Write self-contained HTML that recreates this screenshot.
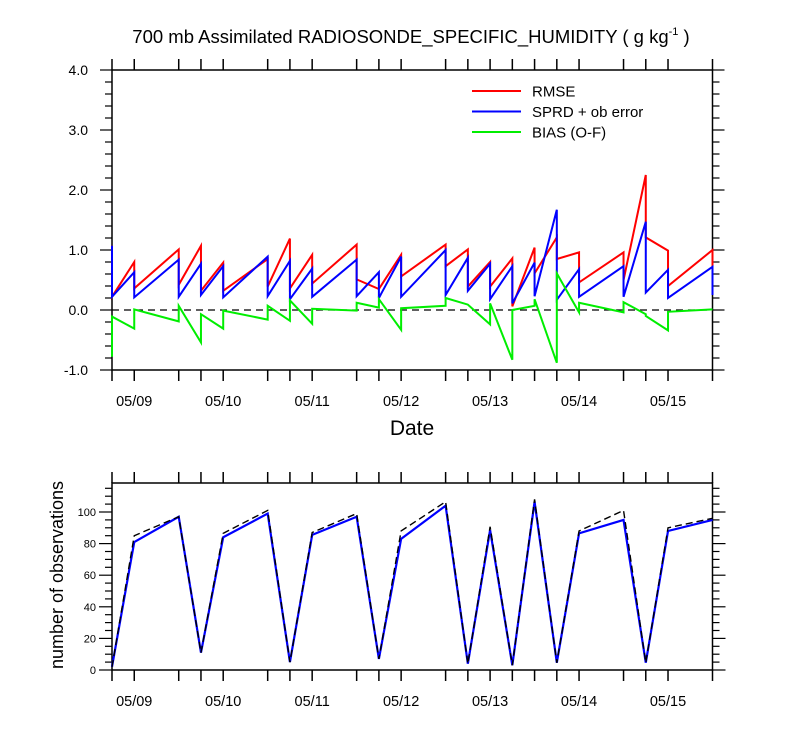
<!DOCTYPE html>
<html><head><meta charset="utf-8"><style>
body{margin:0;background:#fff}
svg{display:block;font-family:"Liberation Sans",sans-serif}
</style></head><body>
<svg id="c" width="800" height="750" xmlns="http://www.w3.org/2000/svg"></svg>
<script>
const hours=[0,6,18,24,30,42,48,54,66,72,78,90,96,102,108,114,120,126,138,144,150,162];
const rmseIn=[1.07,0.80,1.01,1.07,0.79,0.85,1.19,0.92,1.09,0.35,0.92,1.09,1.01,0.80,0.86,1.04,1.21,0.96,0.96,2.25,0.99,1.00];
const rmseOut=[0.22,0.36,0.42,0.32,0.32,0.39,0.36,0.44,0.51,0.35,0.56,0.73,0.39,0.39,0.06,0.61,0.85,0.46,0.50,1.21,0.40,0.25];
const sprdIn=[1.07,0.63,0.84,0.77,0.73,0.89,0.82,0.69,0.84,0.63,0.89,1.00,0.87,0.77,0.73,0.79,1.67,0.68,0.73,1.47,0.67,0.72];
const sprdOut=[0.22,0.21,0.22,0.25,0.21,0.23,0.18,0.22,0.23,0.20,0.22,0.25,0.32,0.18,0.11,0.23,0.17,0.22,0.22,0.29,0.20,0.25];
const biasIn=[-0.78,-0.31,-0.19,-0.54,-0.31,-0.16,-0.18,-0.23,-0.01,0.04,-0.33,0.07,0.09,-0.24,-0.83,0.07,-0.88,-0.04,-0.04,-0.07,-0.34,0.01];
const biasOut=[-0.11,0.01,0.07,-0.07,-0.01,0.07,0.16,0.02,0.12,0.18,0.03,0.20,0.09,0.11,0.00,0.18,0.61,0.12,0.13,-0.10,-0.03,0.01];
const obsHours=[0,6,18,24,30,42,48,54,66,72,78,90,96,102,108,114,120,126,138,144,150,162];
const obsUsed=[2,81,97,11,84,99,5,85.5,97,7,83,104,4,88.6,3,106.5,4.6,86.5,95,4.6,88,95];
const obsTotal=[2,85,97,11,86.5,101,5,87,99,7,88,106.5,4,90.7,3,108,4.6,88,101,4.6,90,96];
const dayLabels=["05/09","05/10","05/11","05/12","05/13","05/14","05/15"];
const dayHours=[6,30,54,78,102,126,150];
const topTicks=["-1.0","0.0","1.0","2.0","3.0","4.0"];
const botTicks=["0","20","40","60","80","100"];

const svg=document.getElementById('c');
const NS='http://www.w3.org/2000/svg';
function mk(tag,attrs,parent){const e=document.createElementNS(NS,tag);for(const k in attrs)e.setAttribute(k,attrs[k]);(parent||svg).appendChild(e);return e;}
const X0=112,X1=712.5;
const xs=h=>X0+(X1-X0)*h/162;
const yTop=v=>310-v*60;
const yBot=v=>670-v*1.58;

let t=mk('text',{x:411,y:43,'text-anchor':'middle','font-size':18.5});


t.innerHTML='700 mb Assimilated RADIOSONDE_SPECIFIC_HUMIDITY ( g kg<tspan font-size="11" dy="-8">-1</tspan><tspan dy="8"> )</tspan>';

function frame(y0,y1,name){
  const r=mk('rect',{x:X0,y:y0,width:X1-X0,height:y1-y0,fill:'none',stroke:'#000','stroke-width':1.5});
  
  
  hours.forEach(h=>{
    const x=xs(h);
    const a=mk('line',{x1:x,x2:x,y1:y1,y2:y1+11,stroke:'#000','stroke-width':1.5});
    
    
    const b=mk('line',{x1:x,x2:x,y1:y0,y2:y0-11,stroke:'#000','stroke-width':1.5});
    
    
  });
  dayHours.forEach((h,i)=>{
    const l=mk('text',{x:xs(h),y:y1+36,'text-anchor':'middle','font-size':14.5});
    
    
    l.textContent=dayLabels[i];
  });
}
frame(70,370,'top-plot-frame');
frame(483,670,'bottom-plot-frame');

for(let v=-1;v<=4.001;v+=0.2){
  const major=Math.abs(v-Math.round(v))<1e-6;
  const y=yTop(v),L=major?12:7;
  [[X0,X0-L],[X1,X1+L]].forEach(p=>{
    const a=mk('line',{x1:p[0],x2:p[1],y1:y,y2:y,stroke:'#000','stroke-width':1.2});
    
    
  });
}
topTicks.forEach(s=>{
  const l=mk('text',{x:88,y:yTop(parseFloat(s))+5,'text-anchor':'end','font-size':14});
  
  
  l.textContent=s;
});
for(let v=0;v<=118;v+=5){
  const major=v%20===0;
  const y=yBot(v),L=major?13:7;
  [[X0,X0-L],[X1,X1+L]].forEach(p=>{
    const a=mk('line',{x1:p[0],x2:p[1],y1:y,y2:y,stroke:'#000','stroke-width':1.2});
    
    
  });
}
botTicks.forEach(s=>{
  const l=mk('text',{x:96,y:yBot(+s)+4,'text-anchor':'end','font-size':11});
  
  
  l.textContent=s;
});

let z=mk('line',{x1:X0,x2:X1,y1:yTop(0),y2:yTop(0),stroke:'#000','stroke-width':1.3,'stroke-dasharray':'7,5'});



function saw(inA,outA,color,name){
  let d='';
  hours.forEach((h,i)=>{const x=xs(h);d+=(i?'L':'M')+x+','+yTop(inA[i])+'L'+x+','+yTop(outA[i]);});
  const p=mk('path',{d:d,fill:'none',stroke:color,'stroke-width':2});
  
  
}
saw(rmseIn,rmseOut,'#ff0000','rmse-line');
saw(sprdIn,sprdOut,'#0000ff','sprd-line');
saw(biasIn,biasOut,'#00ee00','bias-line');

function line(vals,color,dash,name,w){
  const d=obsHours.map((h,i)=>(i?'L':'M')+xs(h)+','+yBot(vals[i])).join('');
  const p=mk('path',{d:d,fill:'none',stroke:color,'stroke-width':w});
  if(dash)p.setAttribute('stroke-dasharray',dash);
  
  
}
line(obsUsed,'#0000ff',null,'obs-used-line',2.2);
line(obsTotal,'#000',"7,4",'obs-total-line',1.4);

const leg=[['RMSE','#ff0000'],['SPRD + ob error','#0000ff'],['BIAS (O-F)','#00ee00']];
leg.forEach((e,i)=>{
  const y=91+i*20.5;
  const a=mk('line',{x1:472,x2:521,y1:y,y2:y,stroke:e[1],'stroke-width':2});
  
  
  const l=mk('text',{x:532,y:y+5.5,'font-size':15});
  
  
  l.textContent=e[0];
});

let dt=mk('text',{x:412,y:435,'text-anchor':'middle','font-size':21});


dt.textContent='Date';
let yt=mk('text',{x:0,y:0,'text-anchor':'middle','font-size':18,transform:'translate(63,575) rotate(-90)'});


yt.textContent='number of observations';
</script>
</body></html>
